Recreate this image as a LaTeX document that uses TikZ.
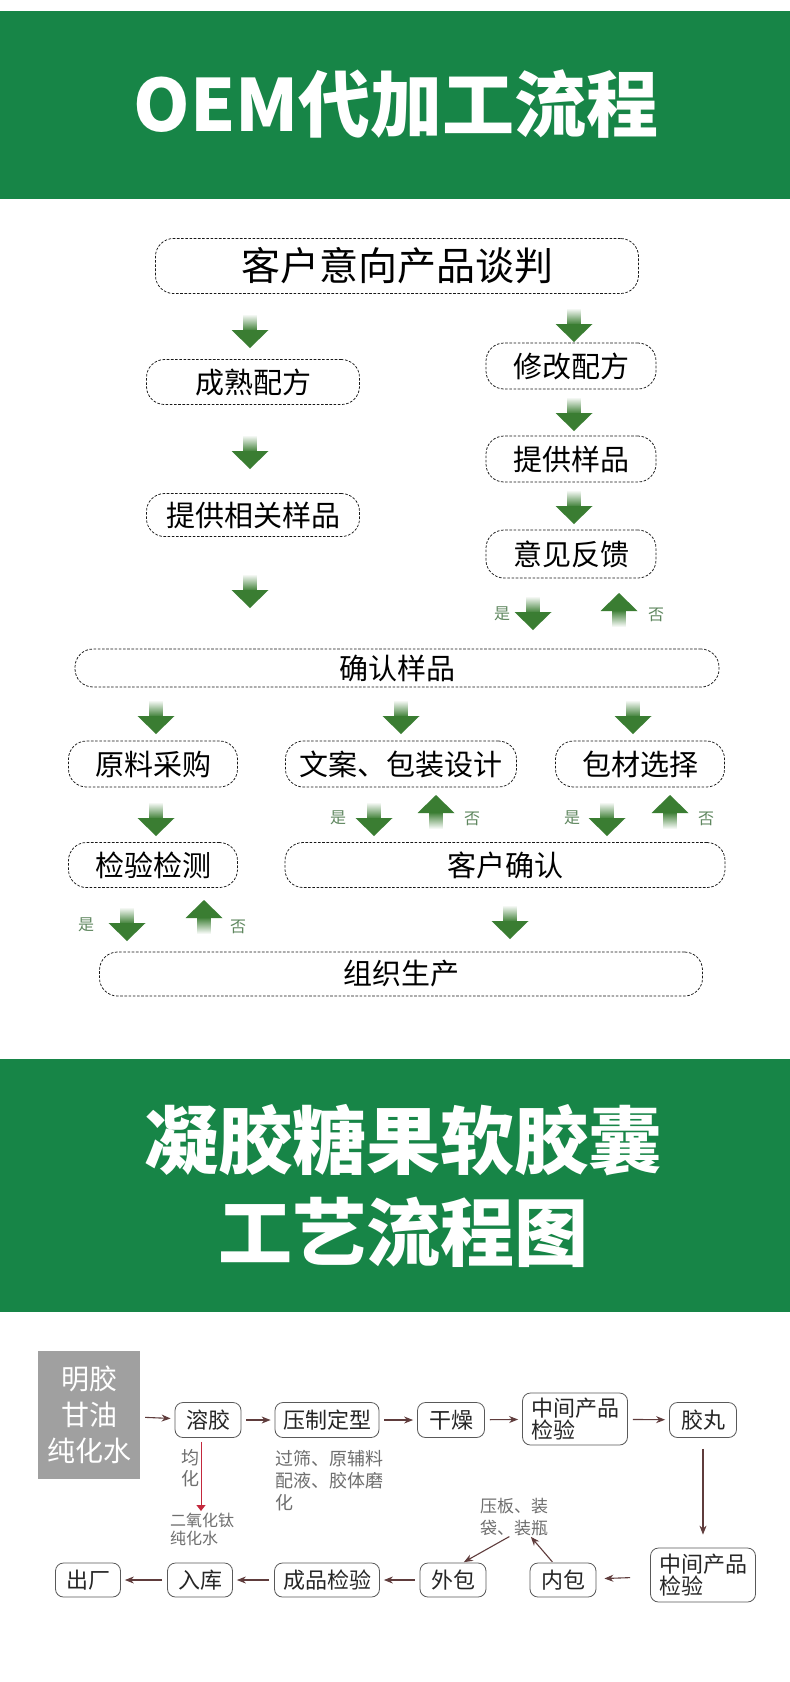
\documentclass[tikz,border=0pt]{standalone}
\usepackage{fontspec}
\setmainfont{Noto Sans CJK SC}
\usetikzlibrary{arrows.meta,calc}
\definecolor{hdgreen}{RGB}{23,133,71}
\definecolor{argreen}{RGB}{58,125,50}
\definecolor{lblgreen}{RGB}{95,135,95}
\definecolor{flowbrown}{RGB}{95,60,60}
\definecolor{notegray}{RGB}{110,110,110}
\definecolor{boxgray}{RGB}{160,160,160}
\definecolor{redline}{RGB}{195,40,60}

\begin{document}
\begin{tikzpicture}[x=1pt,y=-1pt,
  dbox/.style={draw=black!90, dash pattern=on 2.6pt off 1.6pt, line width=0.75pt, rounded corners=18pt, inner sep=0pt, font=\fontsize{29}{34}\selectfont},
  sbox/.style={draw=black!65, line width=0.8pt, rounded corners=8pt, inner sep=0pt, text=black!85, font=\fontsize{22}{22}\selectfont},
  ynlabel/.style={text=lblgreen, font=\fontsize{16}{16}\selectfont, inner sep=0pt},
  notetext/.style={text=notegray, inner sep=0pt, align=left},
  flow/.style={flowbrown, line width=1.1pt, -{Stealth[length=9pt,width=7pt]}, shorten <=5pt, shorten >=4pt},
  garrdown/.pic={
    \shade[top color=white, bottom color=argreen] (-6.5,0) rectangle (6.5,17);
    \fill[argreen] (-18.5,16) -- (18.5,16) -- (0,34) -- cycle;
  },
  garrup/.pic={
    \shade[top color=argreen, bottom color=white] (-6.5,-17) rectangle (6.5,0);
    \fill[argreen] (-18.5,-16) -- (18.5,-16) -- (0,-34) -- cycle;
  }]

\useasboundingbox (0,0) rectangle (790,1682);
\fill[white] (0,0) rectangle (790,1682);

% headers
\fill[hdgreen] (0,11) rectangle (790,199);
\fill[hdgreen] (0,1059) rectangle (790,1312);
\node[text=white, font=\fontsize{72}{80}\selectfont\bfseries] (title1) at (396,104) {OEM代加工流程};
\node[text=white, align=center, font=\fontsize{74}{92}\selectfont\bfseries] (title2) at (403,1186) {凝胶糖果软胶囊\\工艺流程图};

% OEM flow
\node[dbox, minimum width=483, minimum height=55, font=\fontsize{39}{44}\selectfont] (talk) at (397,266) {客户意向产品谈判};
\node[dbox, minimum width=213, minimum height=45] (mature) at (253,382) {成熟配方};
\node[dbox, minimum width=213, minimum height=43] (related) at (253,515) {提供相关样品};
\node[dbox, minimum width=170, minimum height=46] (modify) at (571,366) {修改配方};
\node[dbox, minimum width=170, minimum height=46] (sample) at (571,459) {提供样品};
\node[dbox, minimum width=170, minimum height=48] (feedback) at (571,554) {意见反馈};
\node[dbox, minimum width=644, minimum height=38] (confirm) at (397,668) {确认样品};
\node[dbox, minimum width=169, minimum height=46] (raw) at (153,764) {原料采购};
\node[dbox, minimum width=231, minimum height=46] (design) at (401,764) {文案、包装设计};
\node[dbox, minimum width=169, minimum height=46] (pack) at (640,764) {包材选择};
\node[dbox, minimum width=169, minimum height=45] (check) at (153,865) {检验检测};
\node[dbox, minimum width=440, minimum height=45] (client) at (505,865) {客户确认};
\node[dbox, minimum width=603, minimum height=44] (produce) at (401,974) {组织生产};

\pic at (250,314) {garrdown};
\pic at (250,435) {garrdown};
\pic at (250,574) {garrdown};
\pic at (574,308) {garrdown};
\pic at (574,397) {garrdown};
\pic at (574,490) {garrdown};
\pic at (533,596) {garrdown};
\pic at (619,627) {garrup};
\pic at (156,700) {garrdown};
\pic at (401,700) {garrdown};
\pic at (633,700) {garrdown};
\pic at (156,802) {garrdown};
\pic at (374,802) {garrdown};
\pic at (436,829) {garrup};
\pic at (607,802) {garrdown};
\pic at (670,829) {garrup};
\pic at (127,907) {garrdown};
\pic at (204,934) {garrup};
\pic at (510,905) {garrdown};

\node[ynlabel] (y1) at (502,614) {是};
\node[ynlabel] (n1) at (656,615) {否};
\node[ynlabel] (y2) at (338,818) {是};
\node[ynlabel] (n2) at (472,819) {否};
\node[ynlabel] (y3) at (572,818) {是};
\node[ynlabel] (n3) at (706,819) {否};
\node[ynlabel] (y4) at (86,925) {是};
\node[ynlabel] (n4) at (238,927) {否};

% capsule process
\node[fill=boxgray, text=white, align=center, inner sep=0pt, minimum width=102, minimum height=128, font=\fontsize{28}{36}\selectfont] (mix) at (89,1415) {明胶\\甘油\\纯化水};
\node[sbox, minimum width=66, minimum height=35] (dissolve) at (208,1420) {溶胶};
\node[sbox, minimum width=104, minimum height=35] (press) at (327,1420) {压制定型};
\node[sbox, minimum width=67, minimum height=35] (dry) at (451,1420) {干燥};
\node[sbox, minimum width=105, minimum height=52, align=left] (midA) at (575,1419) {中间产品\\检验};
\node[sbox, minimum width=67, minimum height=35] (pill) at (703,1420) {胶丸};
\node[sbox, minimum width=105, minimum height=54, align=left] (midB) at (703,1575) {中间产品\\检验};
\node[sbox, minimum width=66, minimum height=34] (inner) at (563,1580) {内包};
\node[sbox, minimum width=66, minimum height=34] (outer) at (453,1580) {外包};
\node[sbox, minimum width=105, minimum height=34] (final) at (327,1580) {成品检验};
\node[sbox, minimum width=65, minimum height=34] (store) at (200,1580) {入库};
\node[sbox, minimum width=65, minimum height=34] (ship) at (88,1580) {出厂};

\node[notetext, align=center, font=\fontsize{18}{21}\selectfont] (homog) at (190,1468) {均\\化};
\node[notetext, anchor=west, font=\fontsize{16}{18}\selectfont] (tio) at (170,1529) {二氧化钛\\纯化水};
\node[notetext, anchor=west, font=\fontsize{18}{22}\selectfont] (sieve) at (275,1481) {过筛、原辅料\\配液、胶体磨\\化};
\node[notetext, anchor=west, font=\fontsize{17}{22}\selectfont] (wrap) at (480,1517) {压板、装\\袋、装瓶};
\coordinate (tiotop) at (201,1511);

\draw[flow] (mix) -- (dissolve);
\draw[flow] (dissolve) -- (press);
\draw[flow] (press) -- (dry);
\draw[flow] (dry) -- (midA);
\draw[flow] (midA) -- (pill);
\draw[flow, shorten <=11pt, shorten >=13pt] (pill.south) -- (pill.south |- midB.north);
\draw[flow, shorten <=20pt, shorten >=8pt] (midB) -- (inner);
\draw[flow] (outer) -- (final);
\draw[flow] (final) -- (store);
\draw[flow] (store) -- (ship);
\draw[flow, shorten <=1pt, shorten >=1pt] ($(wrap.south)+(-4,0)$) -- ($(outer.north)+(10,0)$);
\draw[flow, shorten <=1pt, shorten >=1pt] ($(inner.north)+(-10,0)$) -- ($(wrap.south)+(16,0)$);
\draw[redline, line width=1pt, -{Triangle[width=9pt,length=6pt]}, shorten <=4pt] ($(dissolve.south)+(-7,0)$) -- (tiotop);

\end{tikzpicture}
\end{document}
